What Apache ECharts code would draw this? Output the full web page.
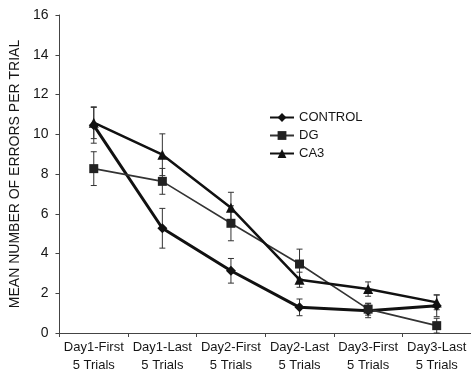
<!DOCTYPE html>
<html><head><meta charset="utf-8">
<script src="https://cdn.jsdelivr.net/npm/echarts@6/dist/echarts.min.js"></script>
<style>html,body{margin:0;padding:0;background:#fff}#c{width:471px;height:379px}</style>
</head><body><div id="c"></div>
<script>
const categories = ['Day1-First\n5 Trials','Day1-Last\n5 Trials','Day2-First\n5 Trials','Day2-Last\n5 Trials','Day3-First\n5 Trials','Day3-Last\n5 Trials'];
const controlMean = [10.45, 5.27, 3.13, 1.29, 1.12, 1.37];
const controlErr  = [0.9, 1.0, 0.62, 0.42, 0.35, 0.55];
const dgMean = [8.27, 7.63, 5.52, 3.47, 1.2, 0.37];
const dgErr  = [0.85, 0.65, 0.88, 0.75, 0.3, 0.37];
const ca3Mean = [10.58, 8.97, 6.3, 2.68, 2.21, 1.54];
const ca3Err  = [0.8, 1.05, 0.78, 0.38, 0.36, 0.37];
const yTicks = [0,2,4,6,8,10,12,14,16];

const font = 'Liberation Sans, Arial, sans-serif';
const ink = '#161616';

function errSeries(mean, err, name) {
  return {
    type: 'custom', name: name + ' err', silent: true, z: 1,
    data: mean.map((m, i) => [i, m - err[i], m + err[i]]),
    renderItem: function (params, api) {
      const x = api.value(0);
      const lo = api.coord([x, api.value(1)]);
      const hi = api.coord([x, api.value(2)]);
      const w = 3;
      const st = { stroke: '#333', lineWidth: 1 };
      return { type: 'group', children: [
        { type: 'line', shape: { x1: lo[0], y1: lo[1], x2: hi[0], y2: hi[1] }, style: st },
        { type: 'line', shape: { x1: lo[0]-w, y1: lo[1], x2: lo[0]+w, y2: lo[1] }, style: st },
        { type: 'line', shape: { x1: hi[0]-w, y1: hi[1], x2: hi[0]+w, y2: hi[1] }, style: st }
      ]};
    }
  };
}

const chart = echarts.init(document.getElementById('c'), null, { renderer: 'canvas' });
chart.setOption({
  animation: false,
  backgroundColor: '#fff',
  grid: { left: 57, right: 0, top: 15, bottom: 46 },
  legend: {
    orient: 'vertical', left: 264, top: 106, itemWidth: 24, itemHeight: 11, itemGap: 5,
    textStyle: { fontFamily: font, fontSize: 13, color: ink },
    data: ['CONTROL', 'DG', 'CA3']
  },
  xAxis: {
    type: 'category', data: categories, boundaryGap: true,
    axisLine: { lineStyle: { color: '#444', width: 1 } },
    axisTick: { show: true, length: 4, inside: false, lineStyle: { color: '#444' } },
    axisLabel: { fontFamily: font, fontSize: 13, color: ink, lineHeight: 18, margin: 5, interval: 0 }
  },
  yAxis: {
    type: 'value', min: yTicks[0], max: yTicks[yTicks.length - 1], interval: 2,
    name: 'MEAN NUMBER OF ERRORS PER TRIAL', nameLocation: 'middle', nameGap: 37,
    nameTextStyle: { fontFamily: font, fontSize: 14, color: ink },
    axisLine: { show: true, lineStyle: { color: '#444', width: 1 } },
    axisTick: { show: true, length: 4, lineStyle: { color: '#444' } },
    splitLine: { show: false },
    axisLabel: { fontFamily: font, fontSize: 14, color: ink, margin: 11 }
  },
  series: [
    errSeries(controlMean, controlErr, 'CONTROL'),
    errSeries(dgMean, dgErr, 'DG'),
    errSeries(ca3Mean, ca3Err, 'CA3'),
    { name: 'CONTROL', type: 'line', data: controlMean, symbol: 'diamond', symbolSize: 10, z: 3,
      lineStyle: { color: '#111', width: 3 }, itemStyle: { color: '#111' } },
    { name: 'DG', type: 'line', data: dgMean, symbol: 'rect', symbolSize: 9, z: 3,
      lineStyle: { color: '#333', width: 1.6 }, itemStyle: { color: '#222' } },
    { name: 'CA3', type: 'line', data: ca3Mean, symbol: 'triangle', symbolSize: 10, z: 3,
      lineStyle: { color: '#111', width: 2.5 }, itemStyle: { color: '#111' } }
  ]
});
</script></body></html>
